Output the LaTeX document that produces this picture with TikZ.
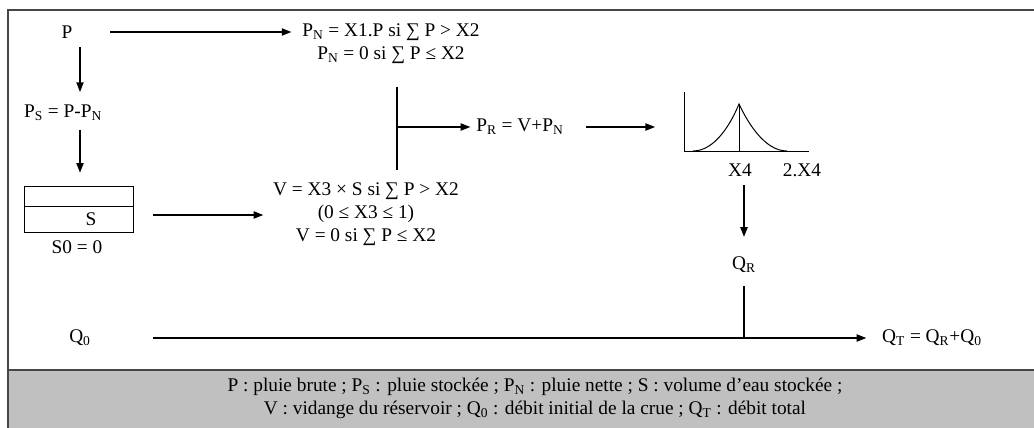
\documentclass[tikz,border=0pt]{standalone}
\usepackage{fontspec}
\setmainfont{Liberation Serif}
\usepackage{tikz}
\usetikzlibrary{arrows.meta,calc,positioning}
\definecolor{cadre}{RGB}{70,70,70}
\definecolor{fondgris}{RGB}{192,192,192}
\newcommand{\idx}[1]{\textsubscript{#1}}

\begin{document}
\begin{tikzpicture}[x=0.025cm, y=-0.025cm,
  every node/.style={font=\fontsize{13.75}{16.4}\selectfont, inner sep=2pt},
  fl/.style={-{Triangle[length=7pt,width=5pt]}, line width=1.3pt},
  ln/.style={line width=1.3pt},
  fin/.style={line width=0.7pt}]

\useasboundingbox (0,0) rectangle (1034,428);

% Cadre et legende
\fill[fondgris] (8,370) rectangle (1034,428);
\draw[cadre, line width=1.6pt] (8,428) -- (8,10) -- (1034,10);
\draw[cadre, line width=1.6pt] (8,370) -- (1034,370);
\node[align=center] (leg) at (535,398)
  {P : pluie brute ; P\idx{S} : pluie stockée ; P\idx{N} : pluie nette ; S : volume d’eau stockée ;\\
   V : vidange du réservoir ; Q\idx{0} : débit initial de la crue ; Q\idx{T} : débit total};

% Pluie
\node (p)  at (67,32)  {P};
\node[align=center] (pn) at (391,44)
  {P\idx{N} = X1.P si ∑ P > X2\\ P\idx{N} = 0 si ∑ P ≤ X2};
\node (ps) at (63,113) {P\idx{S} = P-P\idx{N}};

% Reservoir
\node[draw, fin, minimum width=2.7cm, minimum height=1.15cm] (res) at (79,209) {};
\draw[fin] (res.west |- 0,206) -- (res.east |- 0,206);
\node (s)  at (91,219) {S};
\node (s0) at (77,247) {S0 = 0};
\node[align=center] (v) at (366,214)
  {V = X3 × S si ∑ P > X2\\ (0 ≤ X3 ≤ 1)\\ V = 0 si ∑ P ≤ X2};

% Pluie de ruissellement et hydrogramme
\node (pr) at (520,127) {P\idx{R} = V+P\idx{N}};
\coordinate (j) at (397,127);
\coordinate (g) at (684,151);
\draw[fin] (g |- 0,92) -- (g) -- (809,151);
\draw[fin] (693,151) .. controls (716,151) and (732,121) .. (739,104)
                     .. controls (747,121) and (764,151) .. (787,151);
\draw[fin] (739,104) -- (739,151);
\node (x4)  at (740,170) {X4};
\node (x42) at (802,170) {2.X4};

% Debits
\node (qr) at (744,265) {Q\idx{R}};
\node (q0) at (80,338)  {Q\idx{0}};
\node (qt) at (932,338) {Q\idx{T} = Q\idx{R}+Q\idx{0}};

% Fleches
\draw[fl, shorten <=24.6pt, shorten >=5.5pt] (p) -- (p -| pn.west);
\draw[fl, shorten <=4pt, shorten >=7pt] (p.south -| 80,0) -- (ps.north -| 80,0);
\draw[fl, shorten <=4pt, shorten >=9pt] (ps.south -| 80,0) -- (res.north -| 80,0);
\draw[fl, shorten <=14pt, shorten >=4.7pt] (res.east |- 0,215) -- (v.west |- 0,215);
\draw[ln] (j |- 0,87) -- (j |- 0,170);
\draw[fl, shorten >=2pt] (j) -- (pr);
\draw[fl, shorten <=13.4pt, shorten >=20.4pt] (pr) -- (g |- pr);
\draw[fl, shorten <=4pt, shorten >=12pt] (x4.south -| qr) -- (qr.north);
\draw[ln, shorten <=7pt] (qr.south) -- (qr |- q0);
\draw[fl, shorten <=42pt, shorten >=9pt] (q0) -- (qt);

\end{tikzpicture}
\end{document}
